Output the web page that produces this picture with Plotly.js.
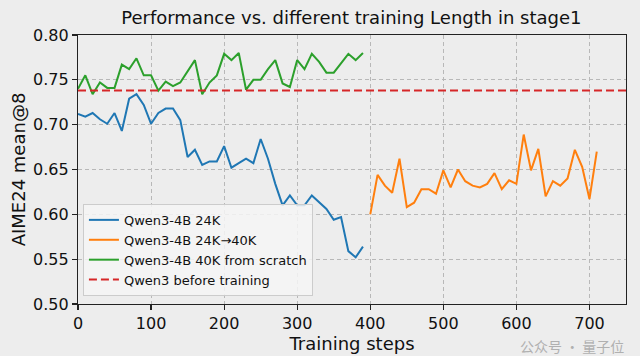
<!DOCTYPE html>
<html>
<head>
<meta charset="utf-8">
<script src="https://cdn.plot.ly/plotly-3.0.1.min.js"></script>
<style>
  html, body { margin: 0; padding: 0; background: #ededed; }
  #chart { width: 640px; height: 356px; }
</style>
</head>
<body>
<div id="chart"></div>
<script>
// Training steps
const steps24K = [0,10,20,30,40,50,60,70,80,90,100,110,120,130,140,150,160,170,180,190,200,210,220,230,240,250,260,270,280,290,300,310,320,330,340,350,360,370,380,390];
const values24K = [0.712,0.709,0.713,0.706,0.701,0.713,0.693,0.729,0.734,0.722,0.701,0.713,0.718,0.718,0.705,0.664,0.672,0.655,0.659,0.659,0.676,0.652,0.657,0.662,0.657,0.684,0.662,0.634,0.610,0.621,0.610,0.610,0.621,0.614,0.606,0.594,0.597,0.559,0.552,0.564];

const steps24Kto40K = [400,410,420,430,440,450,460,470,480,490,500,510,520,530,540,550,560,570,580,590,600,610,620,630,640,650,660,670,680,690,700,710];
const values24Kto40K = [0.600,0.644,0.632,0.624,0.662,0.608,0.613,0.628,0.628,0.623,0.649,0.630,0.650,0.637,0.632,0.630,0.634,0.646,0.628,0.638,0.634,0.689,0.649,0.673,0.620,0.637,0.632,0.640,0.672,0.653,0.617,0.670];

const steps40K = [0,10,20,30,40,50,60,70,80,90,100,110,120,130,140,150,160,170,180,190,200,210,220,230,240,250,260,270,280,290,300,310,320,330,340,350,360,370,380,390];
const values40K = [0.740,0.755,0.734,0.747,0.741,0.741,0.767,0.762,0.774,0.755,0.755,0.738,0.748,0.743,0.747,0.760,0.772,0.734,0.747,0.755,0.779,0.772,0.780,0.739,0.750,0.750,0.762,0.772,0.746,0.742,0.772,0.762,0.779,0.770,0.758,0.758,0.768,0.779,0.772,0.780];

const baselineValue = 0.738;
const xRange = [0, 750];
const yTicks = [0.50,0.55,0.60,0.65,0.70,0.75,0.80];
const yTickLabels = ["0.50","0.55","0.60","0.65","0.70","0.75","0.80"];
const xTicks = [0,100,200,300,400,500,600,700];

const FONT = "DejaVu Sans, Liberation Sans, sans-serif";

const traces = [
  { x: steps24K, y: values24K, type: "scatter", mode: "lines", name: "Qwen3-4B 24K",
    line: { color: "#1f77b4", width: 2 } },
  { x: steps24Kto40K, y: values24Kto40K, type: "scatter", mode: "lines", name: "Qwen3-4B 24K→40K",
    line: { color: "#ff7f0e", width: 2 } },
  { x: steps40K, y: values40K, type: "scatter", mode: "lines", name: "Qwen3-4B 40K from scratch",
    line: { color: "#2ca02c", width: 2 } },
  { x: xRange, y: [baselineValue, baselineValue], type: "scatter", mode: "lines", name: "Qwen3 before training",
    line: { color: "#d62728", width: 2, dash: "8px,4px" } }
];

const axisCommon = {
  showline: true, linecolor: "#222", linewidth: 1.2, mirror: true,
  ticks: "outside", ticklen: 5, tickwidth: 1.2, tickcolor: "#222",
  showgrid: true, gridcolor: "#b8b8b8", gridwidth: 1, griddash: "4px,3px",
  zeroline: false,
  tickfont: { family: FONT, size: 16, color: "#111" }
};

const layout = {
  width: 640, height: 356,
  paper_bgcolor: "#ededed", plot_bgcolor: "#ededed",
  margin: { l: 78, r: 14, t: 35, b: 52 },
  title: { text: "Performance vs. different training Length in stage1",
    font: { family: FONT, size: 18, color: "#111" }, x: 0.549, xanchor: "center", y: 0.95, yanchor: "middle" },
  xaxis: Object.assign({}, axisCommon, {
    range: xRange, tickvals: xTicks,
    title: { text: "Training steps", font: { family: FONT, size: 18, color: "#111" }, standoff: 0 }
  }),
  yaxis: Object.assign({}, axisCommon, {
    range: [0.50, 0.80], tickvals: yTicks, ticktext: yTickLabels,
    title: { text: "AIME24 mean@8", font: { family: FONT, size: 18, color: "#111" }, standoff: 2 }
  }),
  legend: {
    x: 0.009, y: 0.03, xanchor: "left", yanchor: "bottom",
    bgcolor: "rgba(245,245,245,0.85)", bordercolor: "#cccccc", borderwidth: 1,
    font: { family: FONT, size: 13, color: "#111" },
    tracegroupgap: 0
  },
  showlegend: true,
  annotations: [
    { xref: "paper", yref: "paper", x: 1.0, y: -0.155, xanchor: "right", yanchor: "middle",
      text: "公众号 · 量子位", showarrow: false,
      font: { family: "Noto Sans CJK SC, sans-serif", size: 14, color: "#b0b0b0" } }
  ]
};

Plotly.newPlot("chart", traces, layout, { displayModeBar: false, staticPlot: true });
</script>
</body>
</html>
